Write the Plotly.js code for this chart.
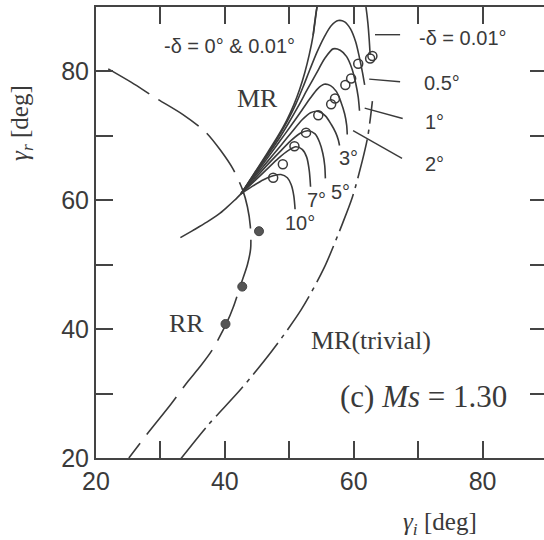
<!DOCTYPE html>
<html>
<head>
<meta charset="utf-8">
<script src="https://cdn.plot.ly/plotly-3.0.1.min.js"></script>
<style>
html,body{margin:0;padding:0;overflow:hidden;background:#fff;}
#chart{width:547px;height:540px;}
</style>
</head>
<body>
<div id="chart"></div>
<script>
// ---- axis ticks ----
const tickVals = [20, 40, 60, 80];
const tickText = ['20', '40', '60', '80'];
const minorStep = 10;

// ---- RR curve (long dash) ----
const rrX = [21.9, 25.5, 29.4, 33.5, 37.0, 39.3, 41.3, 42.8, 43.5, 43.95, 44.0, 43.5, 42.5, 41.3, 40.3, 38.0, 36.0, 34.2, 31.5, 28.3, 25.1];
const rrY = [80.4, 78.3, 75.8, 73.3, 70.6, 67.8, 64.8, 61.5, 59.0, 56.0, 52.5, 50.0, 47.0, 43.4, 41.0, 36.7, 34.0, 31.8, 28.2, 24.2, 20.0];

// ---- MR(trivial) curve (dash-dot) ----
const mrtX = [33.1, 37.3, 42.5, 47.3, 51.9, 55.4, 58.3, 59.8, 61.3, 62.2, 62.9];
const mrtY = [19.8, 25.0, 30.7, 36.6, 43.1, 49.5, 56.5, 60.5, 66.0, 70.0, 75.4];

// ---- MR lower solid branch ----
const mrLowX = [33.1, 35.0, 37.2, 39.0, 40.3, 41.5, 42.5];
const mrLowY = [54.2, 55.3, 56.6, 57.8, 58.9, 60.0, 61.0];

// ---- MR branches for -delta ----
const d0X   = [42.5, 44.5, 46.5, 48.2, 49.6, 50.7, 51.6, 52.4, 53.1, 53.7, 54.3, 54.9];
const d0Y   = [61.0, 64.1, 67.2, 69.9, 72.4, 74.8, 77.2, 79.8, 82.6, 85.6, 90.0, 94.0];
const d001X = [53.7, 54.3, 55.3, 56.8, 58.5, 60.2, 61.4, 61.9, 62.2, 62.4, 62.55];
const d001Y = [85.6, 90.0, 94.0, 97.0, 98.0, 96.5, 93.0, 90.0, 87.5, 85.0, 82.6];
const d05X  = [42.5, 44.5, 46.5, 48.2, 49.7, 51.0, 52.1, 53.2, 54.3, 55.4, 56.5, 57.6, 58.6, 59.5, 60.3, 60.9, 61.35, 61.7];
const d05Y  = [61.0, 64.0, 67.0, 69.7, 72.3, 74.9, 77.5, 80.3, 83.0, 85.3, 87.1, 87.9, 87.7, 86.6, 84.6, 82.1, 79.9, 77.9];
const d1X   = [42.5, 44.5, 46.5, 48.3, 49.9, 51.4, 52.8, 54.2, 55.5, 56.8, 57.9, 58.9, 59.7, 60.3, 60.7, 60.9];
const d1Y   = [61.0, 63.9, 66.8, 69.4, 72.0, 74.6, 77.2, 79.7, 82.0, 83.5, 83.3, 82.3, 80.5, 78.2, 76.0, 73.9];
const d2X   = [42.5, 44.5, 46.5, 48.4, 50.2, 51.9, 53.3, 54.4, 55.4, 56.4, 57.3, 58.0, 58.6, 58.9, 59.0];
const d2Y   = [61.0, 63.7, 66.4, 69.0, 71.5, 73.9, 75.9, 77.3, 78.0, 77.8, 76.9, 75.3, 73.4, 71.7, 70.2];
const d3X   = [42.5, 44.5, 46.6, 48.6, 50.4, 52.0, 53.3, 54.5, 55.6, 56.5, 57.2, 57.6, 57.8];
const d3Y   = [61.0, 63.5, 66.0, 68.4, 70.6, 72.5, 73.6, 73.8, 73.1, 71.8, 70.5, 69.4, 68.5];
const d5X   = [42.5, 44.5, 46.6, 48.6, 50.3, 51.7, 52.9, 54.0, 54.7, 55.2, 55.5, 55.6];
const d5Y   = [61.0, 63.2, 65.5, 67.6, 69.3, 70.4, 70.8, 70.3, 69.0, 67.3, 65.4, 63.4];
const d7X   = [42.5, 44.5, 46.5, 48.3, 49.8, 51.0, 52.0, 52.7, 53.1, 53.3];
const d7Y   = [61.0, 62.9, 64.8, 66.5, 67.7, 68.3, 67.9, 66.7, 64.6, 62.1];
const d10X  = [42.5, 44.3, 46.0, 47.5, 48.7, 49.7, 50.3, 50.7, 50.9];
const d10Y  = [61.0, 62.2, 63.2, 63.8, 64.0, 63.5, 62.4, 60.7, 58.6];

// ---- markers ----
const openX = [62.55, 62.9, 60.7, 59.6, 58.7, 57.1, 56.5, 54.5, 52.6, 50.8, 49.0, 47.5];
const openY = [82.0, 82.4, 81.2, 78.9, 77.9, 75.8, 74.9, 73.2, 70.5, 68.4, 65.6, 63.5];
const fillX = [45.3, 42.7, 40.1];
const fillY = [55.2, 46.6, 40.8];

// ---- leader lines ----
const leadX = [[63.3, 67.2], [62.4, 67.2], [61.7, 67.6], [59.9, 67.5]];
const leadY = [[85.7, 85.7], [78.8, 78.4], [74.3, 72.7], [70.8, 66.5]];

// ---- labels ----
const sansLabels = ['-δ = 0° &amp; 0.01°', '-δ = 0.01°', '0.5°', '1°', '2°', '3°', '5°', '7°', '10°'];
const sansX      = [40.7, 69.8, 70.6, 70.8, 70.8, 57.4, 56.1, 52.5, 49.0];
const sansY      = [84.0, 85.2, 78.2, 72.2, 65.7, 66.5, 61.3, 60.0, 56.5];
const sansAnchor = ['center', 'left', 'left', 'left', 'left', 'left', 'left', 'left', 'left'];
const serifLabels = ['MR', 'RR', 'MR(trivial)'];
const serifX      = [45.0, 34.1, 62.7];
const serifY      = [75.8, 40.8, 38.2];
const panelLabel  = '(c) <i>Ms</i> = 1.30';
const panelPos    = [70.8, 29.6];
const xTitle = '<i>γ<sub>i</sub></i> [deg]';
const yTitle = '<i>γ<sub>r</sub></i> [deg]';

const INK = '#3a3a3a';
const SANS = 'Liberation Sans, Arial, sans-serif';
const SERIF = 'Liberation Serif, Times New Roman, serif';

function line(x, y, dash, w) {
  return {x: x, y: y, type: 'scatter', mode: 'lines', hoverinfo: 'skip',
          line: {color: INK, width: w || 1.6, dash: dash || 'solid', shape: 'spline', smoothing: 0.8}};
}

const traces = [
  line(rrX, rrY, '48px,11px'),
  line(mrtX, mrtY, '40px,6px,4px,6px'),
  line(mrLowX, mrLowY),
  line(d0X, d0Y),
  line(d001X, d001Y),
  line(d05X, d05Y),
  line(d1X, d1Y),
  line(d2X, d2Y),
  line(d3X, d3Y),
  line(d5X, d5Y),
  line(d7X, d7Y),
  line(d10X, d10Y)
];
leadX.forEach((lx, i) => {
  traces.push({x: lx, y: leadY[i], type: 'scatter', mode: 'lines', hoverinfo: 'skip',
               line: {color: INK, width: 1.4}});
});
traces.push({x: openX, y: openY, type: 'scatter', mode: 'markers', hoverinfo: 'skip',
             marker: {symbol: 'circle-open', size: 9, color: INK, line: {width: 1.5, color: INK}}});
traces.push({x: fillX, y: fillY, type: 'scatter', mode: 'markers', hoverinfo: 'skip',
             marker: {symbol: 'circle', size: 9, color: '#555', line: {width: 1, color: '#444'}}});

const annotations = [];
sansLabels.forEach((t, i) => {
  annotations.push({x: sansX[i], y: sansY[i], xref: 'x', yref: 'y', text: t, showarrow: false,
                    xanchor: sansAnchor[i], yanchor: 'middle',
                    font: {family: SANS, size: 20, color: INK}});
});
serifLabels.forEach((t, i) => {
  annotations.push({x: serifX[i], y: serifY[i], xref: 'x', yref: 'y', text: t, showarrow: false,
                    xanchor: 'center', yanchor: 'middle',
                    font: {family: SERIF, size: 26, color: INK}});
});
annotations.push({x: panelPos[0], y: panelPos[1], xref: 'x', yref: 'y', text: panelLabel, showarrow: false,
                  xanchor: 'center', yanchor: 'middle', font: {family: SERIF, size: 31, color: INK}});
annotations.push({x: 0.763, y: -0.146, xref: 'paper', yref: 'paper', text: xTitle, showarrow: false,
                  xanchor: 'center', yanchor: 'middle', font: {family: SERIF, size: 25, color: INK}});
annotations.push({x: -0.164, y: 0.743, xref: 'paper', yref: 'paper', text: yTitle, showarrow: false,
                  textangle: -90, xanchor: 'center', yanchor: 'middle', font: {family: SERIF, size: 25, color: INK}});

const axisCommon = {
  range: [20, 90], tickmode: 'array', tickvals: tickVals, ticktext: tickText,
  ticks: 'inside', ticklen: 17, tickwidth: 2, tickcolor: '#444',
  minor: {dtick: minorStep, tick0: 20, ticks: 'inside', ticklen: 17, tickwidth: 2, tickcolor: '#444', showgrid: false},
  showline: true, linewidth: 2, linecolor: '#444', mirror: 'ticks',
  showgrid: false, zeroline: false, layer: 'above traces',
  tickfont: {family: SANS, size: 25, color: INK}
};

const layout = {
  width: 547, height: 540,
  margin: {l: 96, r: 0, t: 7, b: 82},
  paper_bgcolor: '#fff', plot_bgcolor: '#fff',
  showlegend: false,
  xaxis: Object.assign({}, axisCommon),
  yaxis: Object.assign({}, axisCommon),
  annotations: annotations
};

Plotly.newPlot('chart', traces, layout, {displayModeBar: false, staticPlot: true});
</script>
</body>
</html>
